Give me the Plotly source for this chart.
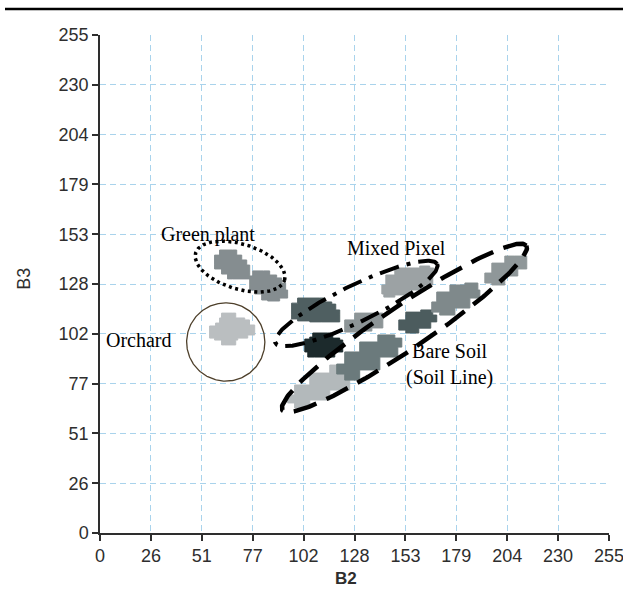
import numpy as np
import plotly.graph_objects as go

# Axis ticks (digital number range 0-255, labelled in rounded tenths)
tick_vals = [0, 25.5, 51, 76.5, 102, 127.5, 153, 178.5, 204, 229.5, 255]
tick_text = ["0", "26", "51", "77", "102", "128", "153", "179", "204", "230", "255"]

# Pixel clusters in the B2/B3 feature space, as cluster outlines
green_plant_1_b2 = [59.9, 66.4, 68.5, 71.0, 73.5, 75.0, 75.0, 66.4, 63.9, 60.9, 57.4, 57.4]
green_plant_1_b3 = [144.9, 144.9, 142.3, 139.8, 137.2, 133.6, 130.1, 130.1, 132.6, 135.2, 137.7, 142.3]

green_plant_2_b2 = [76.5, 82.0, 85.0, 88.5, 91.0, 93.0, 94.0, 90.0, 84.0, 81.0, 77.5, 75.0, 75.0]
green_plant_2_b3 = [134.2, 134.2, 132.1, 130.6, 128.0, 124.4, 120.3, 118.8, 119.3, 122.4, 124.4, 127.0, 131.6]

orchard_b2 = [60.9, 66.4, 68.0, 72.5, 74.9, 77.5, 77.5, 74.0, 69.0, 68.0, 62.4, 60.9, 57.4, 54.9, 54.9, 57.9, 59.9]
orchard_b3 = [112.6, 112.6, 110.1, 109.1, 106.5, 105.0, 101.4, 99.8, 98.8, 96.3, 96.3, 98.8, 99.8, 102.4, 106.0, 107.5, 110.1]

mixed_dark_b2 = [99.0, 110.1, 112.6, 116.1, 118.1, 120.1, 120.1, 111.1, 105.1, 99.0, 96.0, 96.0]
mixed_dark_b3 = [120.3, 120.3, 118.3, 117.2, 114.2, 112.1, 108.1, 108.1, 108.6, 109.6, 112.1, 117.7]

mixed_black_b2 = [106.6, 114.1, 116.6, 120.1, 121.6, 121.6, 117.6, 107.6, 104.1, 102.6, 102.6, 105.1]
mixed_black_b3 = [102.4, 102.4, 99.8, 98.8, 96.3, 92.7, 90.1, 90.1, 92.7, 95.2, 99.3, 100.3]

mixed_grey_b2 = [127.6, 138.7, 141.7, 141.7, 136.2, 130.1, 122.6, 122.6]
mixed_grey_b3 = [112.6, 112.6, 110.1, 105.0, 103.4, 102.9, 103.9, 109.1]

mixed_light_b2 = [147.7, 160.2, 165.2, 167.2, 166.7, 162.7, 155.2, 147.7, 142.2, 141.2, 143.2]
mixed_light_b3 = [135.7, 136.7, 135.7, 132.1, 127.0, 124.4, 121.9, 120.8, 122.4, 127.0, 132.1]

soil_1_b2 = [94.0, 97.5, 105.1, 115.1, 125.1, 128.1, 124.1, 115.1, 105.1, 97.5]
soil_1_b3 = [66.6, 64.0, 68.1, 73.2, 79.4, 83.5, 86.0, 81.9, 75.8, 70.7]

soil_2_b2 = [118.6, 122.6, 130.1, 140.2, 149.2, 151.2, 147.7, 139.2, 130.1, 122.6]
soil_2_b3 = [81.4, 78.3, 83.5, 90.1, 95.2, 99.8, 101.4, 97.8, 92.7, 86.5]

soil_3_b2 = [149.7, 153.2, 159.7, 165.7, 168.7, 166.7, 160.7, 153.2]
soil_3_b3 = [103.9, 102.4, 104.9, 108.1, 111.6, 114.2, 113.1, 109.1]

soil_4_b2 = [166.2, 170.2, 177.8, 185.3, 190.3, 189.3, 182.8, 175.3, 168.7]
soil_4_b3 = [113.1, 111.6, 115.2, 120.3, 124.4, 128.0, 127.0, 123.4, 118.3]

soil_5_b2 = [192.8, 196.3, 202.8, 209.3, 213.8, 213.8, 207.8, 202.8, 196.3]
soil_5_b3 = [128.0, 127.0, 131.6, 135.2, 138.2, 141.8, 141.8, 138.2, 133.1]

clusters = [
    (green_plant_1_b2, green_plant_1_b3, "#858d90"),
    (green_plant_2_b2, green_plant_2_b3, "#858d90"),
    (orchard_b2, orchard_b3, "#babec0"),
    (mixed_dark_b2, mixed_dark_b3, "#4f5f61"),
    (mixed_black_b2, mixed_black_b3, "#1c2a2c"),
    (mixed_grey_b2, mixed_grey_b3, "#8d9597"),
    (mixed_light_b2, mixed_light_b3, "#9ca2a4"),
    (soil_1_b2, soil_1_b3, "#b3b9bb"),
    (soil_2_b2, soil_2_b3, "#6b7a7c"),
    (soil_3_b2, soil_3_b3, "#4c5c5e"),
    (soil_4_b2, soil_4_b3, "#7f898b"),
    (soil_5_b2, soil_5_b3, "#8f9799"),
]

# Class boundaries: centre (B2, B3), semi-axes (B2 units), tilt in degrees
green_plant_ring = (70.2, 136.4, 23.3, 11.3, -17)
orchard_ring = (63.0, 97.8, 19.6, 19.6, 0)
mixed_pixel_ring = (128.4, 117.5, 45.1, 9.2, 26)
bare_soil_ring = (152.5, 105.0, 73.7, 11.0, 34)

# Figure geometry
W, H = 623, 598
ML, MR, MT, MB = 100, 14, 35, 65
plot_w, plot_h = W - ML - MR, H - MT - MB
aspect = (plot_w / 255) / (plot_h / 255)


def ring(cx, cy, a, b, deg, n=240):
    t = np.linspace(0, 2 * np.pi, n)
    th = np.radians(deg)
    x = cx + a * np.cos(t) * np.cos(th) - b * np.sin(t) * np.sin(th)
    y = cy + (a * np.cos(t) * np.sin(th) + b * np.sin(t) * np.cos(th)) * aspect
    return x, y


fig = go.Figure()

for bx, by, col in clusters:
    fig.add_trace(go.Scatter(
        x=bx + bx[:1], y=by + by[:1], mode="lines", fill="toself",
        fillcolor=col, line=dict(color=col, width=1, shape="hv"),
        hoverinfo="skip", showlegend=False,
    ))

ring_styles = [
    (green_plant_ring, "black", 3.5, "3px,3.5px"),
    (orchard_ring, "#4d3f2a", 1.3, "solid"),
    (mixed_pixel_ring, "black", 4, "20px,8px,4px,8px"),
    (bare_soil_ring, "black", 4.5, "24px,11px"),
]
for params, col, lw, dash in ring_styles:
    ex, ey = ring(*params)
    fig.add_trace(go.Scatter(
        x=ex, y=ey, mode="lines",
        line=dict(color=col, width=lw, dash=dash),
        hoverinfo="skip", showlegend=False,
    ))

label_font = dict(family="Liberation Serif, Times New Roman, serif", size=20, color="black")
labels = [
    (53.9, 153.1, "Green plant"),
    (148.4, 145.9, "Mixed Pixel"),
    (19.6, 98.8, "Orchard"),
    (175.3, 86.5, "Bare Soil<br>(Soil Line)"),
]
for lx, ly, txt in labels:
    fig.add_annotation(x=lx, y=ly, text=txt, showarrow=False, font=label_font,
                       xanchor="center", yanchor="middle")

tick_font = dict(family="Liberation Sans, Arial, sans-serif", size=18, color="#2e2e2e")
axis_common = dict(
    range=[0, 255], tickmode="array", tickvals=tick_vals, ticktext=tick_text,
    showgrid=True, gridcolor="#a9d3ec", gridwidth=1, griddash="6px,4px",
    showline=True, linecolor="#2e2e2e", linewidth=1.5,
    ticks="outside", ticklen=6, tickwidth=1.5, tickcolor="#2e2e2e",
    tickfont=tick_font, zeroline=False, fixedrange=True,
    ticklabeloverflow="allow", automargin=False,
)

fig.update_layout(
    width=W, height=H,
    margin=dict(l=ML, r=MR, t=MT, b=MB, pad=0, autoexpand=False),
    paper_bgcolor="white", plot_bgcolor="white",
    xaxis=dict(**axis_common),
    yaxis=dict(**axis_common),
    showlegend=False,
)

# Axis titles
fig.add_annotation(x=0.483, y=-0.092, xref="paper", yref="paper", text="<b>B2</b>",
                   showarrow=False, font=dict(family="Liberation Sans, sans-serif",
                                                 size=17, color="#2e2e2e"),
                   xanchor="center", yanchor="middle")
fig.add_annotation(x=-0.15, y=0.51, xref="paper", yref="paper", text="B3", textangle=-90,
                   showarrow=False, font=dict(family="Liberation Sans, sans-serif",
                                                 size=18, color="#2e2e2e"),
                   xanchor="center", yanchor="middle")

# Rule across the top of the panel
fig.add_shape(type="line", xref="paper", yref="paper",
              x0=-(ML - 5) / plot_w, x1=1 + MR / plot_w,
              y0=1 + 26 / plot_h, y1=1 + 26 / plot_h,
              line=dict(color="black", width=2.5))

fig.write_html("out.html")
